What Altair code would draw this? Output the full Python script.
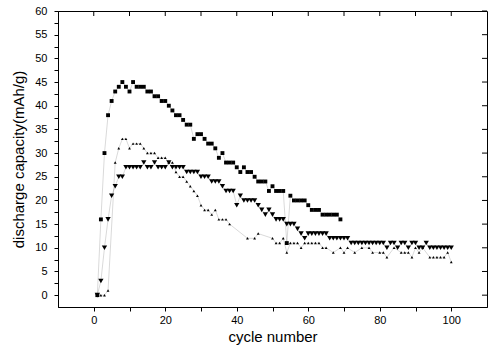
import altair as alt
import pandas as pd

# --- data (cycle number, discharge capacity mAh/g) ---
sq_cycle = list(range(1, 70))
sq_cap = [0, 16, 30, 38, 41, 43, 44, 45, 44, 43,
          45, 44, 44, 44, 43, 43, 42, 42, 41, 41,
          40, 39, 38, 38, 37, 36, 36, 33, 34, 34,
          33, 32, 32, 31, 29, 30, 28, 28, 28, 27,
          26, 27, 26, 26, 25, 24, 24, 24, 22, 23,
          22, 22, 22, 11, 21, 20, 20, 20, 20, 19,
          18, 18, 18, 17, 17, 17, 17, 17, 16]

dn_cycle = list(range(1, 101))
dn_cap = [0, 3, 10, 16, 21, 23, 25, 25, 27, 27,
          27, 27, 27, 28, 27, 27, 28, 27, 27, 27,
          28, 27, 27, 27, 27, 26, 26, 26, 26, 25,
          25, 25, 24, 24, 24, 23, 22, 22, 22, 19,
          21, 20, 20, 20, 20, 19, 18, 17, 18, 17,
          16, 16, 16, 15, 15, 15, 14, 13, 12, 13,
          13, 13, 13, 13, 13, 12, 12, 12, 12, 12,
          12, 11, 11, 11, 11, 11, 11, 11, 11, 11,
          11, 10, 11, 11, 10, 11, 11, 10, 11, 11,
          10, 10, 11, 10, 10, 10, 10, 10, 10, 10]

up_cycle = [1, 2, 3, 4, 6, 7, 8, 9, 10, 11, 12, 13, 14, 15, 16, 17, 18, 19, 20,
            21, 22, 23, 24, 25, 26, 27, 28, 29, 30, 31, 32, 33, 34, 35, 36, 37, 38,
            43, 45, 46, 50, 51, 52, 53, 54, 55, 56, 57, 58, 59, 60, 61, 62, 63, 64,
            65, 67, 69, 70, 71, 73, 75, 77, 78, 80, 81, 82, 84, 86, 87, 88, 89, 90,
            91, 92, 94, 95, 96, 97, 98, 99, 100]
up_cap = [0, 0, 0, 1, 28, 31, 33, 33, 31, 32, 32, 32, 31, 30, 30, 30, 29, 29, 29,
          28, 28, 26, 25, 25, 24, 23, 22, 21, 19, 18, 18, 17, 18, 16, 16, 16, 15,
          12, 12, 13, 12, 11, 11, 12, 9, 11, 11, 11, 10, 11, 11, 11, 11, 11, 10,
          10, 9, 10, 9, 10, 9, 10, 10, 9, 9, 9, 8, 10, 9, 9, 9, 8, 10,
          9, 10, 8, 8, 8, 8, 8, 9, 7]

x_major = list(range(0, 101, 10))
y_ticks = [v * 2.5 for v in range(0, 25)]
y_right = list(range(0, 61, 5))

rows = []
for c, v in zip(sq_cycle, sq_cap):
    rows.append({"cycle": c, "cap": v, "s": "sq"})
for c, v in zip(up_cycle, up_cap):
    rows.append({"cycle": c, "cap": v, "s": "up"})
for c, v in zip(dn_cycle, dn_cap):
    rows.append({"cycle": c, "cap": v, "s": "dn"})
df = pd.DataFrame(rows)
top_df = pd.DataFrame({"cycle": x_major})
right_df = pd.DataFrame({"cap": y_right})

W, H = 429, 296
TICK = 5
xscale = alt.Scale(domain=[-10, 110], nice=False, zero=False)
yscale = alt.Scale(domain=[-2.5, 60], nice=False, zero=False)
FONT = "Liberation Sans"

base = alt.Chart(df)

lines = base.mark_line(strokeWidth=0.5, color="black", opacity=0.3).encode(
    x=alt.X("cycle:Q", scale=xscale,
            axis=alt.Axis(orient="bottom", values=x_major,
                          labelExpr="datum.value % 20 == 0 ? datum.label : ''",
                          title="cycle number", tickSize=4, labelPadding=3,
                          titlePadding=4, grid=False)),
    y=alt.Y("cap:Q", scale=yscale,
            axis=alt.Axis(orient="left", values=y_ticks,
                          labelExpr="datum.value % 5 == 0 ? datum.label : ''",
                          title="discharge capacity(mAh/g)", tickSize=4,
                          labelPadding=7, titlePadding=8, grid=False)),
    detail="s:N",
)

def pts(series, shape, size):
    return base.transform_filter(alt.datum.s == series).mark_point(
        shape=shape, filled=True, size=size, color="black", opacity=1
    ).encode(
        x=alt.X("cycle:Q", scale=xscale, axis=None),
        y=alt.Y("cap:Q", scale=yscale, axis=None),
    )

sq_pts = pts("sq", "square", 15)
dn_pts = pts("dn", "triangle-down", 28)
up_pts = pts("up", "triangle-up", 8)

# inward ticks on the top and right frame edges
top_ticks = alt.Chart(top_df).mark_rule(color="black", strokeWidth=1).encode(
    x=alt.X("cycle:Q", scale=xscale, axis=None),
    y=alt.value(0), y2=alt.value(TICK),
)
right_ticks = alt.Chart(right_df).mark_rule(color="black", strokeWidth=1).encode(
    y=alt.Y("cap:Q", scale=yscale, axis=None),
    x=alt.value(W - TICK), x2=alt.value(W),
)

chart = alt.layer(lines, sq_pts, up_pts, dn_pts, top_ticks, right_ticks).resolve_axis(
    x="independent", y="independent"
).properties(
    width=W, height=H,
    autosize="none",
    background="white",
    padding={"left": 58, "top": 11, "right": 2, "bottom": 48},
).configure_view(
    stroke="black", strokeWidth=1
).configure_axis(
    domainColor="black", tickColor="black", labelColor="black", titleColor="black",
    labelFont=FONT, titleFont=FONT, labelFontSize=11, titleFontSize=15,
    titleFontWeight="normal", domainWidth=1, tickWidth=1,
)

chart.save("out.html", embed_options={"renderer": "svg", "actions": False})
